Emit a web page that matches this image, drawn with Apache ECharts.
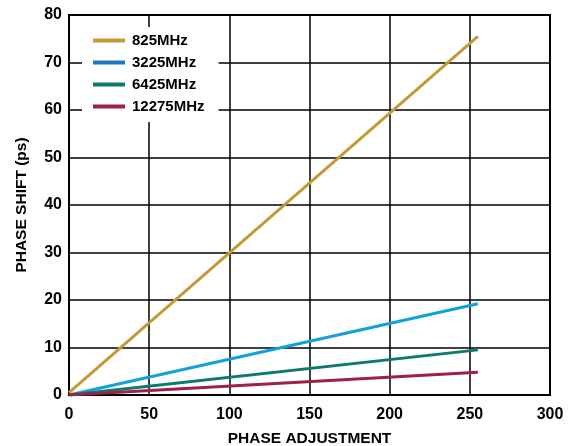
<!DOCTYPE html>
<html><head><meta charset="utf-8">
<script src="https://cdn.jsdelivr.net/npm/echarts@6/dist/echarts.min.js"></script>
<style>html,body{margin:0;padding:0;background:#fff}#c{width:572px;height:446px}</style>
</head><body><div id="c"></div>
<script>
var seriesNames = ['825MHz', '3225MHz', '6425MHz', '12275MHz'];
var phaseAdjustment = [0, 255];
var shift825 = [0.5, 75.5];
var shift3225 = [0, 19.2];
var shift6425 = [0, 9.5];
var shift12275 = [0, 4.8];
var xTicks = [0, 50, 100, 150, 200, 250, 300];
var yTicks = [0, 10, 20, 30, 40, 50, 60, 70, 80];
var lineColors = ['#C49A36', '#16A0DA', '#0E7A6E', '#9E1F48'];
var legendColors = ['#C49A36', '#1C78C0', '#0E7A6E', '#9E1F48'];

var allValues = [shift825, shift3225, shift6425, shift12275];
var font = 'Liberation Sans, Arial, sans-serif';
var chart = echarts.init(document.getElementById('c'));
chart.setOption({
  animation: false,
  grid: {left: 69, right: 22, top: 15, bottom: 51, show: true, borderColor: '#000', borderWidth: 2,
         containLabel: false, outerBoundsMode: 'none'},
  legend: {
    orient: 'vertical', left: 82, top: 27, padding: [6, 14, 8, 11],
    backgroundColor: '#fff', itemWidth: 32, itemHeight: 4, itemGap: 7, icon: 'rect',
    textStyle: {fontFamily: font, fontWeight: 'bold', fontSize: 15, color: '#000', lineHeight: 15, padding: [0, 0, 0, 2]},
    data: seriesNames.map(function (n, i) { return {name: n, itemStyle: {color: legendColors[i]}}; })
  },
  xAxis: {
    type: 'value', min: xTicks[0], max: xTicks[xTicks.length - 1], interval: 50,
    name: 'PHASE ADJUSTMENT', nameLocation: 'middle', nameGap: 36,
    nameTextStyle: {fontFamily: font, fontWeight: 'bold', fontSize: 15.5, color: '#000'},
    axisLine: {show: true, lineStyle: {color: '#000', width: 2}},
    axisTick: {show: false},
    axisLabel: {fontFamily: font, fontWeight: 'bold', fontSize: 16, color: '#000', margin: 12},
    splitLine: {show: true, lineStyle: {color: '#000', width: 1.5}}
  },
  yAxis: {
    type: 'value', min: yTicks[0], max: yTicks[yTicks.length - 1], interval: 10,
    name: 'PHASE SHIFT (ps)', nameLocation: 'middle', nameGap: 39,
    nameTextStyle: {fontFamily: font, fontWeight: 'bold', fontSize: 15.5, color: '#000'},
    axisLine: {show: true, lineStyle: {color: '#000', width: 2}},
    axisTick: {show: false},
    axisLabel: {fontFamily: font, fontWeight: 'bold', fontSize: 16, color: '#000', margin: 7},
    splitLine: {show: true, lineStyle: {color: '#000', width: 1.5}}
  },
  series: seriesNames.map(function (n, i) {
    return {
      name: n, type: 'line', showSymbol: false, symbol: 'none',
      lineStyle: {color: lineColors[i], width: 3}, itemStyle: {color: lineColors[i]},
      data: phaseAdjustment.map(function (x, j) { return [x, allValues[i][j]]; })
    };
  })
});
</script></body></html>
